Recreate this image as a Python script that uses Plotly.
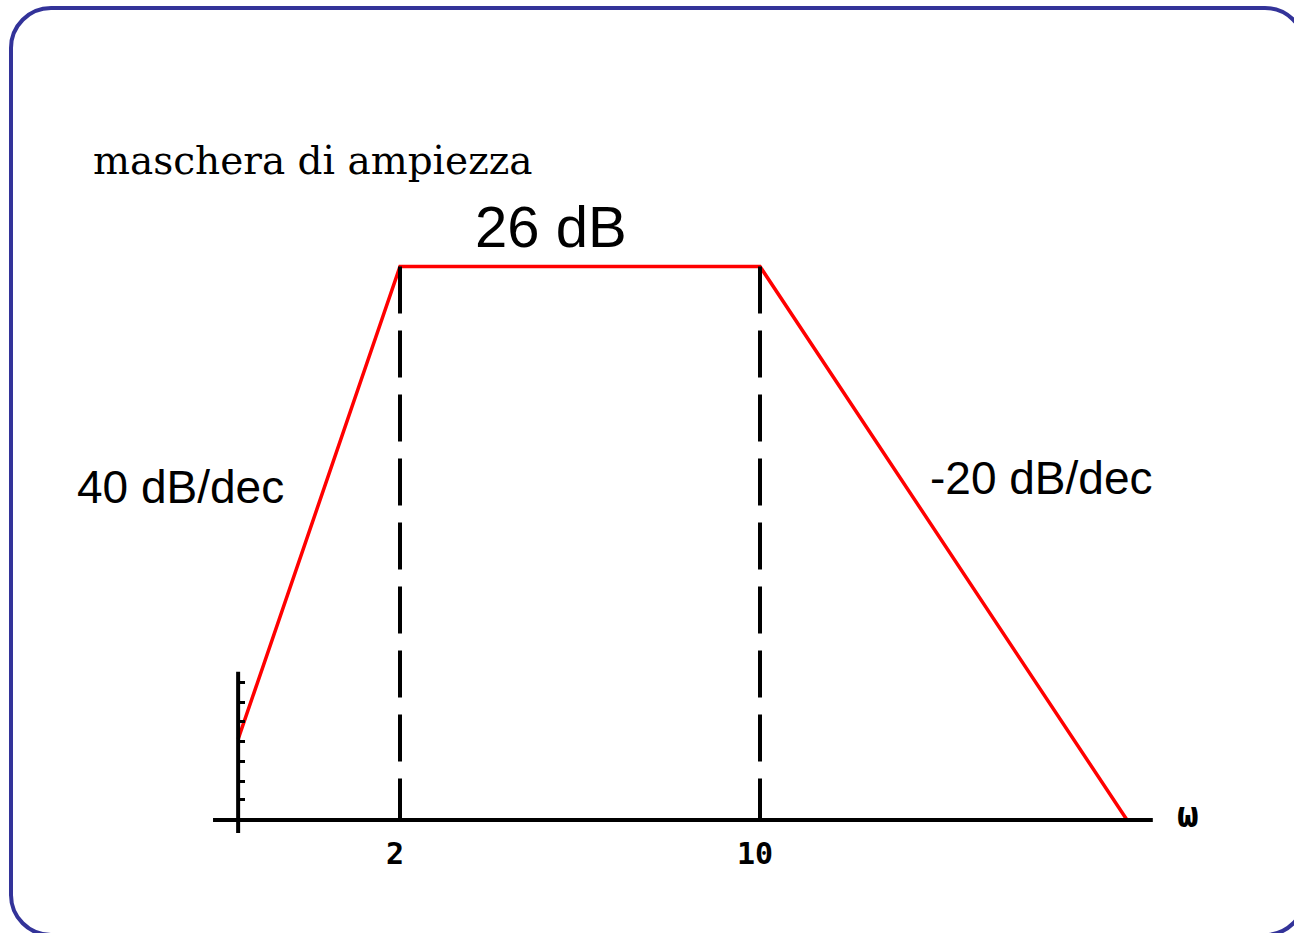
import plotly.graph_objects as go

W, H = 1294, 933

# Asymptotic magnitude mask (frequency in rad/s, magnitude in dB)
omega = [0.97, 2, 10, 51.6]
mag_db = [3.8, 26, 26, 0]

# Corner frequencies and plateau level
corner_omega = [2, 10]
corner_labels = ["2", "10"]
plateau_db = 26

# Small marks on the magnitude axis
y_tick_db = [0.94, 1.83, 2.77, 3.71, 4.65, 5.54, 6.48]

# Visible extent of the drawn axes
X_AXIS_SPAN = (0.867, 57.9)
Y_AXIS_SPAN = (-0.61, 6.96)

X_LOG_RANGE = [-0.4756, 2.0368]
Y_RANGE = [-5.308, 38.519]


def px(x):
    return x / W


def py(y):
    return 1 - y / H


fig = go.Figure()

fig.add_trace(go.Scatter(
    x=omega, y=mag_db, mode="lines",
    line=dict(color="#ff0000", width=3.5),
    hoverinfo="skip", showlegend=False,
))

shapes = []

# frequency axis
shapes.append(dict(type="line", xref="x", yref="y",
                   x0=X_AXIS_SPAN[0], x1=X_AXIS_SPAN[1], y0=0, y1=0,
                   line=dict(color="black", width=4)))
# magnitude axis
shapes.append(dict(type="line", xref="x", yref="y",
                   x0=omega[0], x1=omega[0], y0=Y_AXIS_SPAN[0], y1=Y_AXIS_SPAN[1],
                   line=dict(color="black", width=4)))
# dashed guides at the corner frequencies
for w0 in corner_omega:
    shapes.append(dict(type="line", xref="x", yref="y",
                       x0=w0, x1=w0, y0=plateau_db, y1=0,
                       line=dict(color="black", width=4, dash="47px,17px")))

# rounded frame
L, T, R_, B, r = 11, 8, 1305, 935, 40
k = 0.5523 * r


def P(x, y):
    return f"{px(x):.5f},{py(y):.5f}"


frame = (
    f"M {P(L + r, T)} L {P(R_ - r, T)} "
    f"C {P(R_ - r + k, T)} {P(R_, T + r - k)} {P(R_, T + r)} "
    f"L {P(R_, B - r)} "
    f"C {P(R_, B - r + k)} {P(R_ - r + k, B)} {P(R_ - r, B)} "
    f"L {P(L + r, B)} "
    f"C {P(L + r - k, B)} {P(L, B - r + k)} {P(L, B - r)} "
    f"L {P(L, T + r)} "
    f"C {P(L, T + r - k)} {P(L + r - k, T)} {P(L + r, T)} Z"
)
shapes.append(dict(type="path", xref="paper", yref="paper", path=frame,
                   line=dict(color="#333399", width=4), layer="above"))

serif = "DejaVu Serif"
sans = "Liberation Sans"
mono = "DejaVu Sans Mono"

annotations = [
    dict(text="maschera di ampiezza", x=px(313), y=py(161),
         font=dict(family=serif, size=39, color="black")),
    dict(text=f"{plateau_db} dB", x=px(551), y=py(226),
         font=dict(family=sans, size=58, color="black")),
    dict(text="40 dB/dec", x=px(180), y=py(487),
         font=dict(family=sans, size=46, color="black")),
    dict(text="-20 dB/dec", x=px(1041), y=py(478),
         font=dict(family=sans, size=46, color="black")),
    dict(text="ω", x=px(1188), y=py(814),
         font=dict(family=mono, size=36, color="black", weight="bold")),
]
for a in annotations:
    a.update(xref="paper", yref="paper", showarrow=False,
             xanchor="center", yanchor="middle")

fig.update_layout(
    width=W, height=H,
    margin=dict(l=0, r=0, t=0, b=0),
    paper_bgcolor="white", plot_bgcolor="white",
    showlegend=False,
    shapes=shapes,
    annotations=annotations,
    xaxis=dict(type="log", range=X_LOG_RANGE, domain=[0, 1],
               anchor="free", position=113 / H,
               showgrid=False, zeroline=False, showline=False,
               tickmode="array", tickvals=corner_omega, ticktext=corner_labels,
               ticks="", ticklabelstandoff=13, ticklabelshift=-5,
               tickfont=dict(family=mono, size=30, color="black", weight="bold")),
    yaxis=dict(range=Y_RANGE, domain=[0, 1],
               anchor="free", position=px(238),
               showgrid=False, zeroline=False, showline=False,
               tickmode="array", tickvals=y_tick_db,
               ticks="inside", ticklen=6, tickwidth=3, tickcolor="black",
               showticklabels=False),
)

fig.write_html("out.html")
